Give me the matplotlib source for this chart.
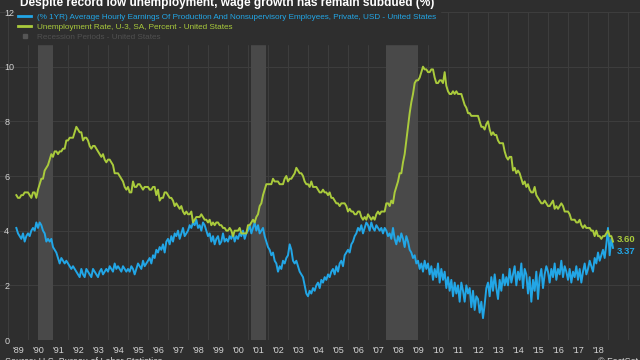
import numpy as np
import matplotlib.pyplot as plt
from matplotlib.lines import Line2D

# monthly data, first point is June 1989
start_year, start_month = 1989, 6

unemployment = [
    5.3, 5.2, 5.2, 5.3, 5.3, 5.4, 5.4,
    5.4, 5.3, 5.2, 5.4, 5.4, 5.2, 5.5, 5.7, 5.9, 5.9, 6.2, 6.3,
    6.4, 6.6, 6.8, 6.7, 6.9, 6.9, 6.8, 6.9, 6.9, 7.0, 7.0, 7.3,
    7.3, 7.4, 7.4, 7.4, 7.6, 7.8, 7.7, 7.6, 7.6, 7.3, 7.4, 7.4,
    7.3, 7.1, 7.0, 7.1, 7.1, 7.0, 6.9, 6.8, 6.7, 6.8, 6.6, 6.5,
    6.6, 6.6, 6.5, 6.4, 6.1, 6.1, 6.1, 6.0, 5.9, 5.8, 5.6, 5.5,
    5.6, 5.4, 5.4, 5.8, 5.6, 5.6, 5.7, 5.7, 5.6, 5.5, 5.6, 5.6,
    5.6, 5.5, 5.5, 5.6, 5.6, 5.3, 5.5, 5.1, 5.2, 5.2, 5.4, 5.4,
    5.3, 5.2, 5.2, 5.1, 4.9, 5.0, 4.9, 4.8, 4.9, 4.7, 4.6, 4.7,
    4.6, 4.6, 4.7, 4.3, 4.4, 4.5, 4.5, 4.5, 4.6, 4.5, 4.4, 4.4,
    4.3, 4.4, 4.2, 4.3, 4.2, 4.3, 4.3, 4.2, 4.2, 4.1, 4.1, 4.0,
    4.0, 4.1, 4.0, 3.8, 4.0, 4.0, 4.0, 4.1, 3.9, 3.9, 3.9, 3.9,
    4.2, 4.2, 4.3, 4.4, 4.3, 4.5, 4.6, 4.9, 5.0, 5.3, 5.5, 5.7,
    5.7, 5.7, 5.7, 5.9, 5.8, 5.8, 5.8, 5.7, 5.7, 5.7, 5.9, 6.0,
    5.8, 5.9, 5.9, 6.0, 6.1, 6.3, 6.2, 6.1, 6.1, 6.0, 5.8, 5.7,
    5.7, 5.6, 5.8, 5.6, 5.6, 5.6, 5.5, 5.4, 5.4, 5.5, 5.4, 5.4,
    5.3, 5.4, 5.2, 5.2, 5.1, 5.0, 5.0, 4.9, 5.0, 5.0, 5.0, 4.9,
    4.7, 4.8, 4.7, 4.7, 4.6, 4.6, 4.7, 4.7, 4.5, 4.4, 4.5, 4.4,
    4.6, 4.5, 4.4, 4.5, 4.4, 4.6, 4.7, 4.6, 4.7, 4.7, 4.7, 5.0,
    5.0, 4.9, 5.1, 5.0, 5.4, 5.6, 5.8, 6.1, 6.1, 6.5, 6.8, 7.3,
    7.8, 8.3, 8.7, 9.0, 9.4, 9.5, 9.5, 9.6, 9.8, 10.0, 9.9, 9.9,
    9.8, 9.8, 9.9, 9.9, 9.6, 9.4, 9.4, 9.5, 9.5, 9.4, 9.8, 9.3,
    9.1, 9.0, 9.0, 9.1, 9.0, 9.1, 9.0, 9.0, 9.0, 8.8, 8.6, 8.5,
    8.3, 8.3, 8.2, 8.2, 8.2, 8.2, 8.2, 8.0, 7.8, 7.8, 7.7, 7.9,
    8.0, 7.7, 7.5, 7.6, 7.5, 7.5, 7.3, 7.2, 7.2, 7.2, 6.9, 6.7,
    6.6, 6.7, 6.7, 6.2, 6.3, 6.1, 6.2, 6.1, 5.9, 5.7, 5.8, 5.6,
    5.7, 5.5, 5.4, 5.4, 5.6, 5.3, 5.2, 5.1, 5.0, 5.0, 5.1, 5.0,
    4.9, 4.9, 5.0, 5.1, 4.8, 4.9, 4.8, 4.9, 5.0, 4.9, 4.7, 4.7,
    4.7, 4.6, 4.4, 4.4, 4.4, 4.3, 4.3, 4.4, 4.2, 4.1, 4.2, 4.1,
    4.1, 4.1, 4.0, 4.0, 3.8, 4.0, 3.8, 3.8, 3.7, 3.8, 3.8, 3.9,
    4.0, 3.8, 3.8, 3.6,
]

wage_growth = [
    4.1, 3.9, 3.8, 3.7, 3.9, 3.6, 3.8,
    3.9, 3.8, 4.0, 4.1, 4.0, 4.3, 4.1, 4.3, 4.2, 4.0, 3.9, 3.6,
    3.7, 3.6, 3.7, 3.4, 3.3, 3.2, 3.0, 2.8, 3.0, 2.9, 2.8, 2.9,
    2.8, 2.7, 2.6, 2.7, 2.6, 2.5, 2.4, 2.3, 2.6, 2.4, 2.3, 2.6,
    2.5, 2.4, 2.3, 2.6, 2.5, 2.4, 2.3, 2.5, 2.6, 2.4, 2.5, 2.6,
    2.5, 2.7, 2.6, 2.5, 2.8, 2.6, 2.7, 2.6, 2.5, 2.7, 2.6, 2.5,
    2.6, 2.5, 2.7, 2.6, 2.4, 2.6, 2.8, 2.7, 2.6, 2.9, 2.7, 2.8,
    2.9, 3.0, 2.8, 3.1, 3.0, 3.3, 3.2, 3.4, 3.3, 3.5, 3.2, 3.6,
    3.7, 3.5, 3.8, 3.6, 3.9, 3.8, 4.0, 3.7, 3.9, 4.1, 3.8, 3.9,
    4.0, 4.2, 4.1, 4.3, 4.2, 4.4, 4.1, 4.2, 4.0, 4.3, 4.2, 4.0,
    3.8, 3.9, 3.6, 3.8, 3.5, 3.7, 3.8, 3.5, 3.6, 3.9, 3.6, 3.7,
    3.6, 3.8, 3.7, 3.9, 3.6, 3.8, 3.7, 3.9, 3.8, 4.0, 3.7, 3.9,
    4.0, 4.2, 3.9, 4.1, 4.3, 4.0, 4.2, 3.9, 4.0, 4.1, 3.8, 3.6,
    3.4, 3.3, 3.1, 3.2, 2.9, 2.8, 2.5, 2.7, 2.6, 2.9, 2.8, 3.0,
    3.1, 3.5, 3.3, 2.9, 2.8, 2.9, 2.7, 2.5, 2.4, 2.3, 2.0, 1.7,
    1.6, 1.8, 1.7, 1.9, 1.8, 2.0, 2.1, 1.9, 2.2, 2.1, 2.3, 2.2,
    2.4, 2.3, 2.5, 2.6, 2.4, 2.7, 2.5, 2.8, 2.9, 2.7, 3.1, 3.2,
    3.3, 3.2, 3.5, 3.6, 3.8, 3.9, 4.1, 4.0, 4.2, 3.9, 4.1, 4.3,
    4.2, 4.0, 4.3, 4.1, 4.0, 4.2, 4.1, 4.0, 4.1, 3.9, 4.1, 4.0,
    3.8, 3.9, 3.7, 4.1, 3.7, 3.5, 3.8, 3.6, 3.9, 3.7, 3.4, 3.8,
    3.6, 3.3, 3.2, 3.0, 3.1, 2.8, 2.9, 2.6, 2.8, 2.5, 2.9, 2.6,
    2.8, 2.4, 2.7, 2.2, 2.6, 2.3, 2.8, 2.1, 2.6, 2.2, 2.5, 1.9,
    2.3, 1.8, 2.2, 1.6, 2.1, 1.7, 2.0, 1.4, 2.1, 1.8, 1.4, 2.0,
    1.7, 1.9, 1.2, 1.8, 1.1, 1.6, 1.5, 1.0, 1.4, 0.8, 1.3, 1.9,
    2.1, 1.6, 2.3, 1.8, 2.4, 1.9, 1.5, 2.2, 1.8, 2.4, 2.0, 2.3,
    2.0, 2.6, 2.1, 2.4, 2.7, 2.0, 2.5, 2.2, 2.8, 1.9, 2.6, 2.4,
    1.7, 2.3, 1.4, 2.2, 1.8, 2.5, 1.5, 2.3, 2.6, 1.9, 2.4, 2.7,
    2.5, 2.1, 2.6, 2.3, 2.8, 2.2, 2.6, 2.4, 2.9, 2.3, 2.7, 2.5,
    2.2, 2.6, 2.1, 2.5, 2.3, 2.7, 2.2, 2.6, 2.1, 2.5, 2.8, 2.4,
    2.6, 2.9, 2.7, 2.5, 3.0, 2.8, 3.2, 2.9, 3.1, 3.3, 3.0, 3.5,
    4.1, 3.1, 3.7, 3.37,
]

# NBER recessions (decimal years)
recessions = [(1990.5, 1991.25), (2001.17, 2001.92), (2007.92, 2009.5)]

tick_years = np.arange(1989, 2019)
tick_labels = ["'%02d" % (y % 100) for y in tick_years]

title = "Despite record low unemployment, wage growth has remain subdued (%)"
wage_name = ("(% 1YR) Average Hourly Earnings Of Production And Nonsupervisory "
             "Employees, Private, USD - United States")
unemp_name = "Unemployment Rate, U-3, SA, Percent - United States"
rec_name = "Recession Periods - United States"

bg = '#2e2e2e'
grid_c = '#3d3d3d'
rec_c = '#494949'
blue = '#22a6e6'
green = '#aacb3c'
txt = '#d4d4d4'

plt.rcParams['font.family'] = ['Liberation Sans', 'DejaVu Sans']

fig = plt.figure(figsize=(6.4, 3.6), dpi=100, facecolor=bg)
ax = fig.add_axes([0, 20 / 360, 1, 328 / 360], facecolor=bg)

t = start_year + (start_month - 1) / 12 + np.arange(len(unemployment)) / 12

for a, b in recessions:
    ax.axvspan(a, b, color=rec_c, lw=0, zorder=1)

ax.plot(t, wage_growth, color=blue, lw=1.4, zorder=3)
ax.plot(t, unemployment, color=green, lw=1.4, zorder=3)

# end-of-series value labels
ax.annotate('%.2f' % unemployment[-1], (t[-1], unemployment[-1]),
            xytext=(4, 2), textcoords='offset pixels', color=green,
            fontsize=6.8, fontweight='bold', va='center', ha='left')
ax.annotate('%.2f' % wage_growth[-1], (t[-1], wage_growth[-1]),
            xytext=(4, -4), textcoords='offset pixels', color=blue,
            fontsize=6.8, fontweight='bold', va='center', ha='left')

ax.set_xlim(1988.6, 2020.6)
ax.set_ylim(0, 12)
ax.set_xticks(np.arange(1989, 2021))
ax.set_xticklabels([])
ax.set_xticks(tick_years + 0.5, tick_labels, minor=True)
ax.set_yticks(range(0, 13, 2))
ax.tick_params(which='both', length=0, colors=txt, labelsize=6.5)
ax.tick_params(axis='x', which='minor', pad=4)
ax.tick_params(axis='y', pad=-3)
for lab in ax.get_yticklabels():
    lab.set_ha('left')
ax.grid(True, which='major', color=grid_c, lw=0.8, zorder=0)
ax.set_axisbelow(True)
for s in ax.spines.values():
    s.set_visible(False)

handles = [Line2D([], [], color=blue, lw=2),
           Line2D([], [], color=green, lw=2),
           Line2D([], [], color='#555555', marker='s', ms=3.5, ls='none')]
leg = ax.legend(handles, [wage_name, unemp_name, rec_name],
                loc='upper left', bbox_to_anchor=(15 / 640, 1 - 10 / 360),
                bbox_transform=fig.transFigure, borderaxespad=0, borderpad=0.4,
                prop={'size': 5.9}, labelspacing=0.25, handlelength=1.6,
                handletextpad=0.7, frameon=True, fancybox=False,
                facecolor=bg, edgecolor=bg, framealpha=1,
                labelcolor=[blue, green, '#505050'])
leg.set_zorder(5)

fig.text(20 / 640, 1 - 6 / 360, title, color='white', fontsize=8.6,
         fontweight='bold', va='baseline', ha='left')
fig.text(5 / 640, 1 - 357 / 360, 'Source: U.S. Bureau of Labor Statistics',
         color=txt, fontsize=6.5, va='top', ha='left')
fig.text(598 / 640, 1 - 357 / 360, '\u00a9 FactSet', color=txt,
         fontsize=6.5, va='top', ha='left')

fig.savefig('out.png', dpi=100, facecolor=bg)
